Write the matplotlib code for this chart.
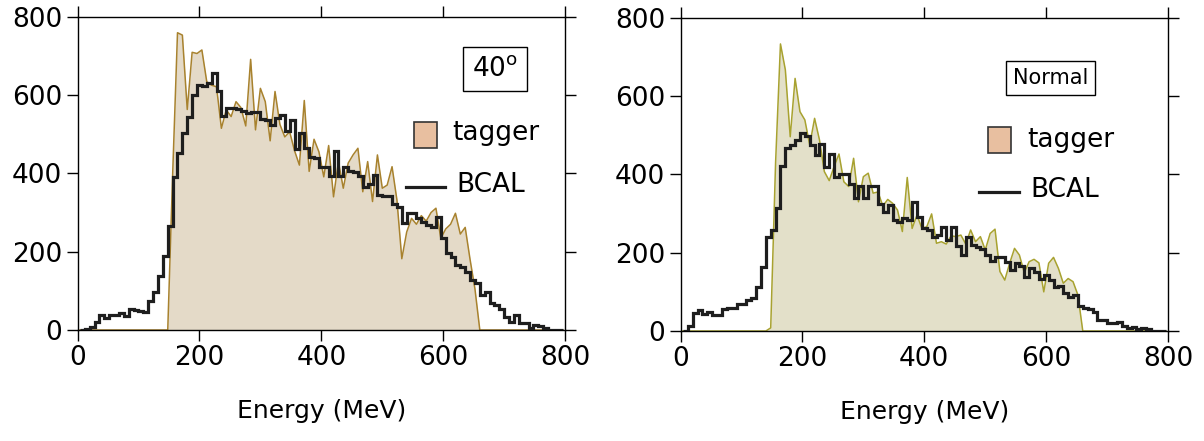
import numpy as np
import matplotlib
matplotlib.use('Agg')
import matplotlib.pyplot as plt
from matplotlib.patches import Rectangle

# bin edges (MeV), 8 MeV wide; tagger points sit on the same grid
edges = np.arange(4, 804, 8)

# --- 40 degree run ---
tagger_40 = [0] * 18 + [0, 395,
    759, 753, 563, 709, 706, 715, 634, 625, 621, 515,
    562, 545, 583, 568, 521, 691, 511, 617, 583, 483,
    609, 525, 493, 506, 458, 421, 586, 405, 487, 455,
    391, 471, 340, 430, 362, 426, 447, 464, 353, 430,
    328, 447, 362, 370, 417, 332, 182, 250, 285, 270,
    292, 278, 300, 311, 234, 258, 270, 298, 245, 262,
    180, 105, 0] + [0] * 17

bcal_40 = [0, 2, 7, 21, 38, 30, 38, 38, 43, 36,
    53, 51, 49, 47, 74, 98, 138, 189, 266, 391,
    451, 504, 545, 600, 625, 623, 630, 657, 611, 546,
    568, 568, 563, 560, 553, 557, 557, 540, 536, 523,
    542, 549, 508, 536, 461, 504, 464, 442, 440, 417,
    415, 392, 458, 392, 415, 406, 404, 393, 366, 373,
    396, 344, 343, 341, 322, 315, 274, 298, 298, 285,
    277, 268, 264, 289, 234, 196, 187, 166, 162, 149,
    128, 119, 89, 98, 68, 64, 53, 34, 21, 38,
    17, 17, 4, 13, 10, 4, 0, 1, 0]

# --- normal incidence run ---
tagger_norm = [0] * 18 + [8, 430,
    733, 667, 496, 645, 560, 539, 475, 543, 488, 407,
    384, 420, 452, 381, 369, 441, 330, 394, 403, 352,
    355, 319, 336, 326, 309, 254, 392, 262, 296, 262,
    266, 299, 224, 228, 222, 243, 241, 245, 222, 258,
    228, 241, 207, 249, 260, 152, 130, 173, 211, 194,
    149, 177, 183, 174, 100, 173, 188, 160, 122, 134,
    126, 92, 0] + [0] * 17

bcal_norm = [0, 13, 47, 54, 43, 49, 41, 42, 55, 58,
    60, 68, 69, 79, 85, 112, 164, 239, 257, 313,
    421, 466, 475, 487, 506, 498, 475, 449, 478, 418,
    451, 394, 401, 401, 375, 339, 369, 339, 369, 369,
    324, 305, 322, 283, 279, 288, 283, 330, 292, 262,
    258, 241, 245, 266, 232, 265, 217, 194, 241, 220,
    215, 209, 194, 180, 190, 190, 175, 157, 174, 166,
    139, 160, 151, 133, 143, 130, 112, 115, 96, 88,
    92, 64, 60, 55, 49, 28, 28, 21, 20, 24,
    13, 7, 9, 5, 7, 4, 1, 0, 0]

ticks = [0, 200, 400, 600, 800]

fig = plt.figure(figsize=(12.04, 4.41), dpi=100)
ax1 = fig.add_axes([0.0644, 0.2517, 0.405, 0.7105])
ax2 = fig.add_axes([0.5652, 0.2494, 0.405, 0.7105])

panels = [
    (ax1, tagger_40, bcal_40, '#e4dac8', '#a8822e', '40$^{\\mathrm{o}}$', 19,
     (685, 666), (552, 465, 38, 66), 615, 503, (539, 603, 365), 621, 370),
    (ax2, tagger_norm, bcal_norm, '#e3e0c9', '#a8a230', 'Normal', 15,
     (607, 646), (505, 455, 38, 66), 569, 488, (489, 555, 355), 574, 360),
]

for (ax, tag, bcal, fillc, linec, label, lsize, lpos, patch, tx, ty,
     bline, bx, by) in panels:
    ax.fill_between(edges, tag, 0, color=fillc, lw=0, zorder=1)
    ax.plot(edges, tag, color=linec, lw=1.1, zorder=2)
    ax.stairs(bcal, edges, color='#1e1e1e', lw=2.3, zorder=3)

    ax.set_xlim(0, 800)
    ax.set_ylim(0, 800)
    ax.set_xticks(ticks)
    ax.set_yticks(ticks)
    ax.tick_params(direction='out', top=True, right=True, length=8,
                   width=1, labelsize=19, pad=3)
    for s in ax.spines.values():
        s.set_linewidth(1)
    ax.set_xlabel('Energy (MeV)', fontsize=18, labelpad=20)

    # run label box
    ax.text(lpos[0], lpos[1], label, fontsize=lsize, ha='center', va='center',
            bbox=dict(boxstyle='square,pad=0.35', fc='white', ec='black', lw=1))

    # hand-made legend
    ax.add_patch(Rectangle((patch[0], patch[1]), patch[2], patch[3],
                           fc='#e8bfa0', ec='#333333', lw=1.2, zorder=4))
    ax.text(tx, ty, 'tagger', fontsize=19, va='center')
    ax.plot([bline[0], bline[1]], [bline[2], bline[2]], color='#1e1e1e', lw=2.3)
    ax.text(bx, by, 'BCAL', fontsize=19, va='center')

fig.savefig('out.png', dpi=100)
